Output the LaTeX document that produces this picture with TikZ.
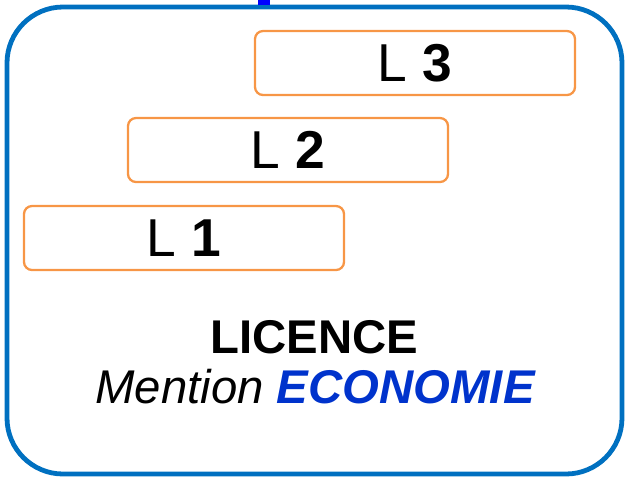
\documentclass[tikz,border=0pt]{standalone}
\usepackage{fontspec}
\setmainfont{Liberation Sans}
\definecolor{licblue}{HTML}{0070C0}
\definecolor{licorange}{HTML}{F79646}
\definecolor{ecoblue}{HTML}{0033CC}

\begin{document}
\begin{tikzpicture}[x=0.75pt,y=-0.75pt,
  year/.style={draw=licorange, line width=1.7pt, rounded corners=6pt,
    minimum width=240pt, minimum height=48pt, inner sep=0pt,
    font=\fontsize{40}{40}\selectfont},
  title/.style={anchor=base, inner sep=0pt, font=\fontsize{35.5}{35.5}\selectfont}]
\useasboundingbox (0,0) rectangle (629,480);
% outer frame
\draw[licblue, line width=3.6pt, rounded corners=42pt] (7,7) rectangle (622,474);
\fill[blue] (258,0) rectangle (270,5);
% years
\node[year] (l3) at (415,63) {L \textbf{3}};
\node[year] (l2) at (288,150) {L \textbf{2}};
\node[year] (l1) at (184,238) {L \textbf{1}};
% degree
\node[title] (lic) at (314.5,353) {\textbf{LICENCE}};
\node[title] (mention) at (315,403) {\textit{Mention} \textbf{\textit{\color{ecoblue}ECONOMIE}}};
\end{tikzpicture}
\end{document}
